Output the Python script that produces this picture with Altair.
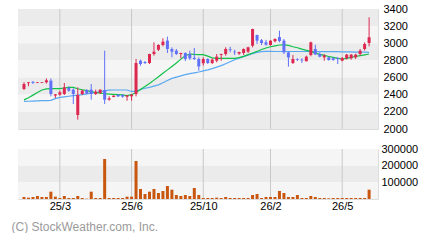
import altair as alt
import pandas as pd

# ---- data (weekly candles) ----
opens  = [2467, 2535, 2550, 2538, 2538, 2545, 2564, 2390, 2400, 2408,
          2478, 2459, 2163, 2408, 2455, 2459, 2408, 2420, 2455, 2342,
          2373, 2400, 2397, 2377, 2381, 2408, 2797, 2782, 2770, 2875,
          2925, 2980, 3031, 2933, 2914, 2875, 2887, 2875, 2830, 2817,
          2767, 2817, 2770, 2797, 2864, 2875, 2930, 2902, 2880, 2887,
          2902, 2972, 3097, 3035, 3011, 2980, 3023, 3073, 3031, 2894,
          2770, 2813, 2809, 2790, 2863, 2933, 2875, 2836, 2836, 2825,
          2830, 2797, 2825, 2825, 2836, 2875, 2933, 3003]
highs  = [2545, 2548, 2560, 2548, 2548, 2590, 2590, 2408, 2447, 2537,
          2498, 2475, 2486, 2459, 2466, 2525, 2459, 2462, 2914, 2381,
          2392, 2408, 2405, 2395, 2408, 2817, 2809, 2794, 2878, 3011,
          2988, 3058, 3077, 2953, 2933, 2890, 2894, 2914, 2945, 2836,
          2836, 2825, 2825, 2875, 2878, 2953, 2960, 2925, 2902, 2940,
          2960, 3170, 3100, 3050, 3040, 3035, 3058, 3147, 3050, 2902,
          2863, 2825, 2825, 2856, 3019, 2984, 2894, 2875, 2844, 2836,
          2836, 2840, 2875, 2875, 2878, 2933, 3011, 3303]
lows   = [2455, 2498, 2525, 2535, 2535, 2530, 2381, 2362, 2389, 2397,
          2435, 2292, 2109, 2397, 2405, 2342, 2397, 2408, 2292, 2330,
          2370, 2373, 2365, 2330, 2330, 2381, 2738, 2758, 2758, 2856,
          2910, 2964, 2887, 2836, 2864, 2825, 2793, 2805, 2805, 2680,
          2739, 2758, 2758, 2778, 2797, 2856, 2894, 2864, 2864, 2864,
          2887, 2953, 2992, 2980, 2972, 2972, 3011, 3011, 2875, 2727,
          2758, 2793, 2770, 2790, 2848, 2864, 2836, 2797, 2797, 2797,
          2758, 2790, 2809, 2809, 2817, 2856, 2914, 2964]
closes = [2525, 2545, 2540, 2545, 2545, 2568, 2408, 2405, 2428, 2486,
          2447, 2408, 2397, 2447, 2416, 2408, 2435, 2459, 2342, 2358,
          2389, 2381, 2377, 2393, 2400, 2770, 2758, 2770, 2875, 2902,
          2980, 3019, 2933, 2902, 2875, 2887, 2817, 2825, 2817, 2730,
          2817, 2770, 2809, 2844, 2875, 2933, 2920, 2894, 2898, 2933,
          2953, 3167, 3031, 3003, 2984, 3031, 3050, 3027, 2894, 2836,
          2817, 2805, 2801, 2844, 3011, 2870, 2844, 2856, 2805, 2805,
          2820, 2828, 2867, 2867, 2867, 2914, 2992, 3070]
ma13   = [2340, 2365, 2395, 2425, 2455, 2468, 2470, 2470, 2470, 2478,
          2486, 2486, 2470, 2458, 2447, 2437, 2426, 2418, 2413, 2408,
          2404, 2401, 2397, 2390, 2400, 2425, 2460, 2495, 2530, 2570,
          2610, 2650, 2690, 2730, 2770, 2815, 2855, 2875, 2870, 2868,
          2868, 2850, 2830, 2825, 2825, 2825, 2825, 2825, 2832, 2848,
          2868, 2887, 2905, 2927, 2945, 2960, 2970, 2980, 2982, 2975,
          2960, 2948, 2932, 2918, 2905, 2885, 2870, 2858, 2846, 2835,
          2825, 2817, 2825, 2836, 2846, 2856, 2865, 2875]
ma26   = [2322, 2324, 2326, 2328, 2330, 2332, 2335, 2355, 2368, 2375,
          2382, 2390, 2395, 2400, 2410, 2418, 2426, 2435, 2445, 2453,
          2455, 2455, 2455, 2455, 2438, 2440, 2462, 2475, 2486, 2500,
          2515, 2540, 2565, 2590, 2605, 2620, 2635, 2645, 2655, 2665,
          2678, 2690, 2705, 2722, 2740, 2762, 2785, 2808, 2826, 2845,
          2862, 2880, 2893, 2903, 2906, 2905, 2904, 2904, 2904, 2904,
          2904, 2904, 2904, 2904, 2903, 2903, 2903, 2902, 2902, 2902,
          2902, 2900, 2900, 2900, 2898, 2898, 2896, 2895]
volumes = [12000, 8000, 12000, 18000, 12000, 12000, 44000, 14000, 6000, 18000,
           6000, 6000, 18000, 6000, 2000, 44000, 6000, 6000, 240000, 6000,
           6000, 6000, 6000, 14000, 14000, 228000, 60000, 30000, 44000, 60000,
           36000, 48000, 78000, 56000, 24000, 18000, 24000, 18000, 66000, 24000,
           6000, 6000, 6000, 8000, 6000, 12000, 6000, 6000, 6000, 6000,
           6000, 24000, 30000, 6000, 12000, 12000, 12000, 48000, 36000, 12000,
           12000, 24000, 6000, 6000, 18000, 12000, 6000, 6000, 4000, 6000,
           6000, 6000, 6000, 6000, 6000, 6000, 6000, 56000]

tick_pos = [8, 24, 40, 55, 71]
tick_labels = ["25/3", "25/6", "25/10", "26/2", "26/5"]
price_ticks = [2000, 2200, 2400, 2600, 2800, 3000, 3200, 3400]
vol_ticks = [100000, 200000, 300000]
price_band_lo = [3200, 3000, 2800, 2600, 2400, 2200, 2000]
price_band_hi = [3400, 3200, 3000, 2800, 2600, 2400, 2200]
price_band_shade = ["d", "l", "d", "l", "d", "l", "d"]
vol_band_lo = [200000, 100000, 0]
vol_band_hi = [300000, 200000, 100000]
vol_band_shade = ["l", "d", "l"]

FONT = "Liberation Sans"
RED = "#dc2850"
BLUE = "#6070f8"
GREEN = "#10c048"
LBLUE = "#5aa8f2"
VOLC = "#c8560f"

n = len(opens)
df = pd.DataFrame({
    "i": list(range(n)), "open": opens, "high": highs, "low": lows,
    "close": closes, "ma13": ma13, "ma26": ma26, "vol": volumes,
})
df["dir"] = ["up" if c >= o else "down" for o, c in zip(opens, closes)]

ticks_df = pd.DataFrame({"i": tick_pos, "lab": tick_labels})
pband = pd.DataFrame({"lo": price_band_lo, "hi": price_band_hi, "s": price_band_shade})
vband = pd.DataFrame({"lo": vol_band_lo, "hi": vol_band_hi, "s": vol_band_shade})

xscale = alt.Scale(domain=[-0.22, 77.87], nice=False, zero=False)
pscale = alt.Scale(domain=[2000, 3400], nice=False, zero=False)
vscale = alt.Scale(domain=[0, 300000], nice=False, zero=False)
shade = alt.Scale(domain=["d", "l"], range=["#ebebeb", "#f5f5f5"])
dircol = alt.Scale(domain=["up", "down"], range=[RED, BLUE])

W, HP, HV = 360, 120, 50

label_expr = " : ".join(
    f"datum.value == {p} ? '{l}'" for p, l in zip(tick_pos, tick_labels)
) + " : ''"


def yaxis(vals, pad):
    return alt.Axis(orient="right", values=vals, format="d",
                    grid=False, domain=False, ticks=False,
                    labelOverlap=False, labelFlush=False,
                    labelPadding=pad, labelFontSize=11, labelFont=FONT,
                    labelColor="#000000", title=None)


PAX = yaxis(price_ticks, 5)
VAX = yaxis(vol_ticks, 3)
XAX_P = None
XAX_V = alt.Axis(values=tick_pos, labelExpr=label_expr, grid=False,
                 domain=False, ticks=False, labelPadding=1,
                 labelOverlap=False, labelFlush=False,
                 labelFontSize=11, labelFont=FONT,
                 labelColor="#000000", title=None)

# ---- price panel ----
p_bands = alt.Chart(pband).mark_rect().encode(
    y=alt.Y("lo:Q", scale=pscale, axis=PAX),
    y2="hi:Q",
    color=alt.Color("s:N", scale=shade, legend=None),
)
p_grid = alt.Chart(ticks_df).mark_rule(color="#c8c8c8", strokeWidth=1).encode(
    x=alt.X("i:Q", scale=xscale, axis=XAX_P)
)
p_ma26 = alt.Chart(df).mark_line(color=LBLUE, strokeWidth=1.2).encode(
    x=alt.X("i:Q", scale=xscale, axis=XAX_P),
    y=alt.Y("ma26:Q", scale=pscale, axis=PAX))
p_ma13 = alt.Chart(df).mark_line(color=GREEN, strokeWidth=1.2).encode(
    x=alt.X("i:Q", scale=xscale, axis=XAX_P),
    y=alt.Y("ma13:Q", scale=pscale, axis=PAX))
p_wick = alt.Chart(df).mark_rule(strokeWidth=1).encode(
    x=alt.X("i:Q", scale=xscale, axis=XAX_P),
    y=alt.Y("low:Q", scale=pscale, axis=PAX), y2="high:Q",
    color=alt.Color("dir:N", scale=dircol, legend=None),
)
p_body = alt.Chart(df).mark_bar(size=3).encode(
    x=alt.X("i:Q", scale=xscale, axis=XAX_P),
    y=alt.Y("open:Q", scale=pscale, axis=PAX), y2="close:Q",
    color=alt.Color("dir:N", scale=dircol, legend=None),
)
price = alt.layer(p_bands, p_grid, p_ma26, p_ma13, p_wick, p_body).resolve_scale(
    color="independent").properties(width=W, height=HP)

# ---- volume panel ----
v_bands = alt.Chart(vband).mark_rect().encode(
    y=alt.Y("lo:Q", scale=vscale, axis=VAX),
    y2="hi:Q",
    color=alt.Color("s:N", scale=shade, legend=None),
)
v_grid = alt.Chart(ticks_df).mark_rule(color="#c8c8c8", strokeWidth=1).encode(
    x=alt.X("i:Q", scale=xscale, axis=XAX_V)
)
v_bars = alt.Chart(df).mark_bar(size=3, color=VOLC).encode(
    x=alt.X("i:Q", scale=xscale, axis=XAX_V),
    y=alt.Y("vol:Q", scale=vscale, axis=VAX))
volume = alt.layer(v_bands, v_grid, v_bars).properties(width=W, height=HV)

chart = alt.vconcat(price, volume, spacing=20, bounds="flush").properties(
    padding={"left": 11, "top": 2, "right": 0, "bottom": 0},
    title=alt.TitleParams(text="(C) StockWeather.com, Inc.", orient="bottom",
                          anchor="start", color="#9a9a9a", fontSize=12,
                          fontWeight="normal", font=FONT, offset=10, dx=-6),
).configure_view(stroke=None).configure(background="#ffffff")

chart.save("out.html", embed_options={"renderer": "svg", "actions": False})
